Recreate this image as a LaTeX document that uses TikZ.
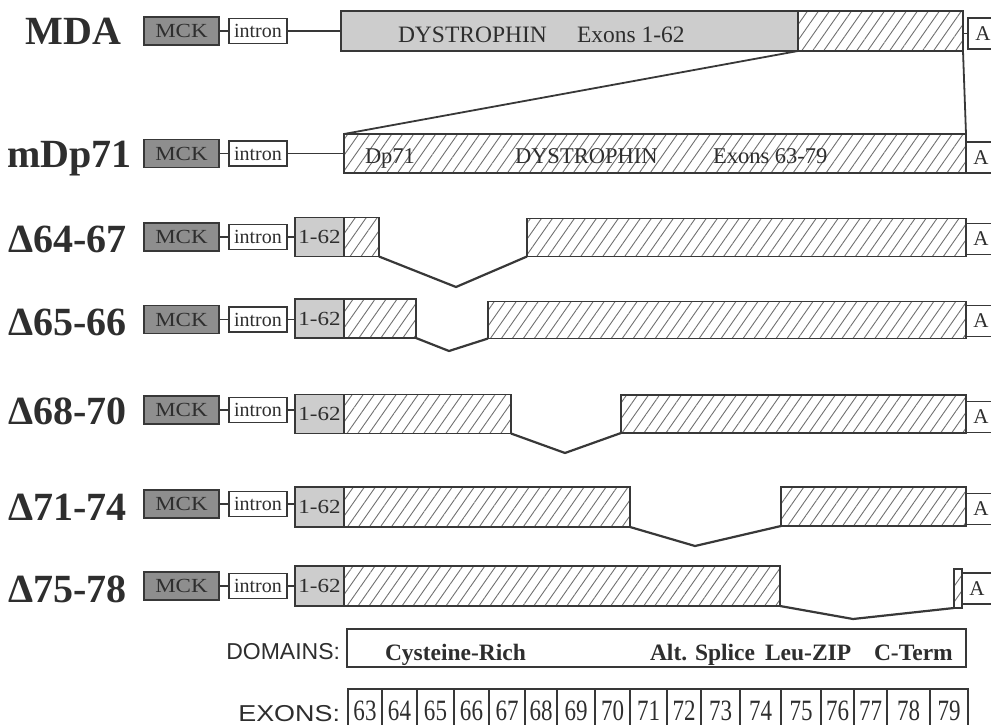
\documentclass[tikz,border=0pt]{standalone}
\usepackage{fontspec}
\setmainfont{Liberation Serif}
\newfontfamily\widefont[FakeStretch=1.15]{Liberation Serif}
\newfontfamily\narrowfont[FakeStretch=0.78]{Liberation Serif}
\newfontfamily\sansfont{Liberation Sans}
\newfontfamily\sanswidefont[FakeStretch=1.17]{Liberation Sans}
\usetikzlibrary{patterns.meta}
\definecolor{ink}{HTML}{383838}
\definecolor{txt}{HTML}{2E2E2E}
\definecolor{mckgray}{HTML}{8E8E8E}
\definecolor{lightg}{HTML}{CDCDCD}
\definecolor{hatchg}{HTML}{707070}
\tikzset{
  every node/.style={inner sep=0pt, outer sep=0pt, text=txt},
  box/.style={draw=ink, line width=1.8pt, rectangle},
  mck/.style={box, fill=mckgray, minimum width=75pt, minimum height=28pt, font=\widefont\fontsize{20}{20}\selectfont},
  intronbox/.style={box, fill=white, minimum width=58pt, minimum height=25pt, font=\fontsize{20}{20}\selectfont},
  exbox/.style={box, fill=lightg, minimum width=49pt, minimum height=39pt, font=\widefont\fontsize{20}{20}\selectfont},
  hatch/.style={box, pattern={Lines[angle=55,distance=9pt,line width=0.9pt]}, pattern color=hatchg},
  abox/.style={box, fill=white, minimum width=30pt, minimum height=31pt, anchor=west, font=\fontsize{21}{21}\selectfont},
  biglab/.style={anchor=base, font=\bfseries\fontsize{40}{40}\selectfont},
  dtext/.style={anchor=base west, font=\fontsize{23.5}{23.5}\selectfont},
  domtext/.style={anchor=base west, font=\bfseries\fontsize{23.5}{23.5}\selectfont},
  exnum/.style={anchor=base, font=\narrowfont\fontsize{29.5}{29.5}\selectfont},
  conn/.style={draw=ink, line width=1.8pt},
  vline/.style={draw=ink, line width=2.2pt, line join=miter},
}
\newcommand{\rowstart}[5]{%
  \node[biglab] (#1lab) at (#4,#5) {#3};
  \node[mck] (#1mck) at (181.5,#2) {MCK};
  \node[intronbox] (#1int) at (258,#2) {intron};
  \draw[conn] (#1mck.east) -- (#1int.west);
}
\newcommand{\hatchseg}[5]{%
  \node[hatch, anchor=west, minimum width={(#3-#2)*1pt}, minimum height=#5pt] (#1) at (#2,#4) {};
}
\begin{document}
\begin{tikzpicture}[x=1pt,y=-1pt]
\useasboundingbox (0,0) rectangle (991,725);
\clip (0,0) rectangle (991,725);

% ---- MDA ----
\rowstart{mda}{31}{MDA}{73.5}{45}
\node[box, fill=lightg, anchor=west, minimum width=457pt, minimum height=40pt] (mdaG) at (341,31) {};
\hatchseg{mdaH}{798}{963}{31}{40}
\node[dtext] (mdaT1) at (398,43) {DYSTROPHIN};
\node[dtext] (mdaT2) at (577,43) {Exons 1-62};
\node[abox] (mdaA) at (968,33.5) {A};
\draw[conn] (mdaint.east) -- (mdaG.west);
\draw[conn] (mdaA.west) -- (mdaA.west -| mdaH.east);

% ---- mDp71 ----
\rowstart{mdp}{153.5}{mDp71}{69.5}{167}
\hatchseg{mdpH}{344}{966}{153.5}{39}
\node[dtext, font=\fontsize{22.5}{22.5}\selectfont] (mdpT1) at (365,163) {Dp71};
\node[dtext, font=\fontsize{22.5}{22.5}\selectfont] (mdpT2) at (515,163) {DYSTROPHIN};
\node[dtext, font=\fontsize{22.5}{22.5}\selectfont] (mdpT3) at (713,163) {Exons 63-79};
\node[abox] (mdpA) at (966,157.5) {A};
\draw[conn] (mdpint.east) -- (mdpH.west);
\draw[conn] (mdaG.south east) -- (mdpH.north west);
\draw[conn] (mdaH.south east) -- (mdpH.north east);

% ---- Delta 64-67 ----
\rowstart{da}{237}{Δ64-67}{67.5}{252}
\hatchseg{daH1}{344}{379}{237}{39}
\hatchseg{daH2}{527}{966}{237.5}{38}
\node[exbox] (daE) at (319.5,237) {1-62};
\node[abox] (daA) at (966,239) {A};
\draw[conn] (daint.east) -- (daint.east -| daE.west);
\coordinate (daV) at (456,287);
\draw[vline] (daH1.south east) -- (daV) -- (daH2.south west);

% ---- Delta 65-66 ----
\rowstart{db}{319.5}{Δ65-66}{67.5}{335}
\hatchseg{dbH1}{344}{416}{318.5}{39}
\hatchseg{dbH2}{488}{966}{320}{37}
\node[exbox] (dbE) at (319.5,318.5) {1-62};
\node[abox] (dbA) at (966,321) {A};
\draw[conn] (dbint.east) -- (dbint.east -| dbE.west);
\coordinate (dbV) at (449,351);
\draw[vline] (dbH1.south east) -- (dbV) -- (dbH2.south west);

% ---- Delta 68-70 ----
\rowstart{dc}{410}{Δ68-70}{67.5}{424}
\hatchseg{dcH1}{344}{511}{414}{39}
\hatchseg{dcH2}{621}{966}{414}{38}
\node[exbox] (dcE) at (319.5,414) {1-62};
\node[abox] (dcA) at (966,417) {A};
\draw[conn] (dcint.east) -- (dcint.east -| dcE.west);
\coordinate (dcV) at (565,453);
\draw[vline] (dcH1.south east) -- (dcV) -- (dcH2.south west);

% ---- Delta 71-74 ----
\rowstart{dd}{504}{Δ71-74}{67.5}{520}
\hatchseg{ddH1}{344}{630}{507}{40}
\hatchseg{ddH2}{781}{966}{506.5}{39}
\node[exbox, minimum height=40pt] (ddE) at (319.5,507) {1-62};
\node[abox] (ddA) at (966,509) {A};
\draw[conn] (ddint.east) -- (ddint.east -| ddE.west);
\coordinate (ddV) at (695,546);
\draw[vline] (ddH1.south east) -- (ddV) -- (ddH2.south west);

% ---- Delta 75-78 ----
\rowstart{de}{586}{Δ75-78}{67.5}{602}
\hatchseg{deH1}{344}{780}{586}{40}
\hatchseg{deH2}{954}{962}{588.5}{39}
\node[exbox, minimum height=40pt] (deE) at (319.5,586) {1-62};
\node[abox] (deA) at (962,588.5) {A};
\draw[conn] (deint.east) -- (deint.east -| deE.west);
\coordinate (deV) at (853,619);
\draw[vline] (deH1.south east) -- (deV) -- (deH2.south west);

% ---- Domains ----
\node[anchor=base east, font=\sansfont\fontsize{23}{23}\selectfont] (domlab) at (340,659) {DOMAINS:};
\node[box, anchor=north west, minimum width=619pt, minimum height=38pt] (dom) at (347,629) {};
\node[domtext] (d1) at (385,660) {Cysteine-Rich};
\node[domtext] (d2) at (650,660) {Alt. Splice};
\node[domtext] (d3) at (765,660) {Leu-ZIP};
\node[domtext] (d4) at (874,660) {C-Term};

% ---- Exons ----
\node[anchor=base east, font=\sanswidefont\fontsize{23}{23}\selectfont] (exlab) at (340,721) {EXONS:};
\foreach \a/\b/\n in {348/382/63, 382/417/64, 417/454/65, 454/489/66, 489/525/67, 525/557/68, 557/595/69, 595/630/70, 630/667/71, 667/701/72, 701/740/73, 740/781/74, 781/821/75, 821/854/76, 854/887/77, 887/930/78, 930/968/79}{
  \node[box, anchor=north west, minimum width={(\b-\a)*1pt}, minimum height=50pt] (e\n) at (\a,689) {};
  \node[exnum] (t\n) at ({(\a+\b)/2},720) {\n};
}
\end{tikzpicture}
\end{document}
